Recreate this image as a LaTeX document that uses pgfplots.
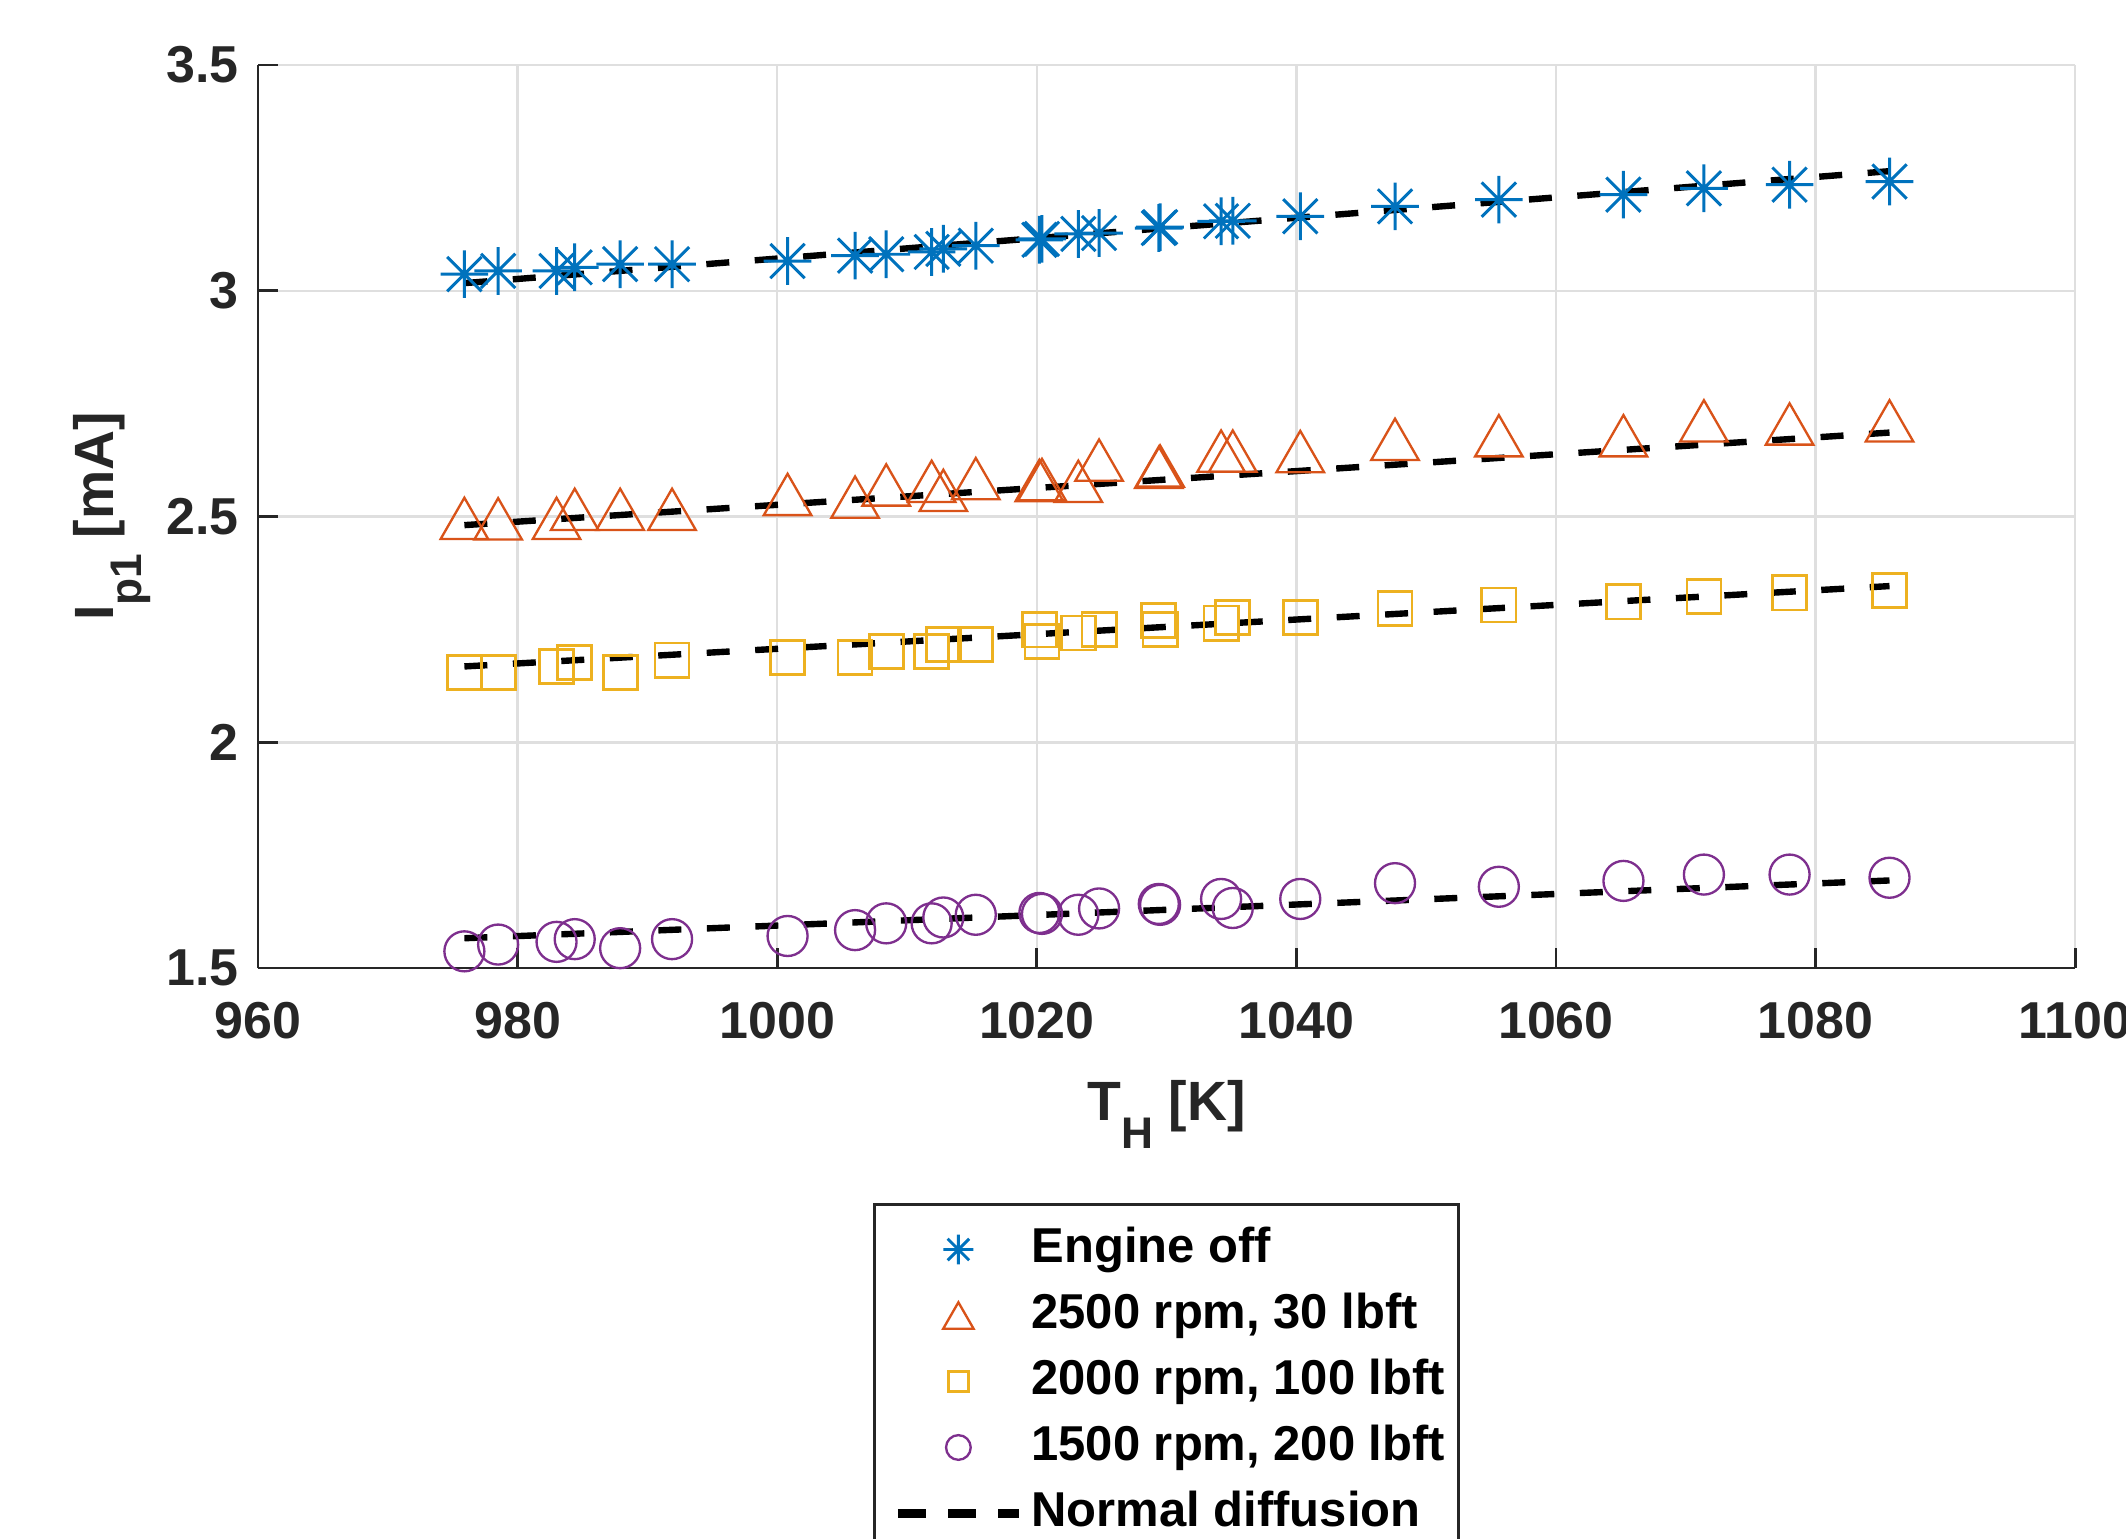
\documentclass[border=0pt]{standalone}
\usepackage{fontspec}
\setmainfont{Liberation Sans}
\usepackage{pgfplots}
\usepackage{pgfplotstable}
\pgfplotsset{compat=1.18}
\usetikzlibrary{calc}

\definecolor{mblue}{RGB}{0,114,189}
\definecolor{mred}{RGB}{217,83,25}
\definecolor{myellow}{RGB}{237,177,32}
\definecolor{mpurple}{RGB}{126,47,142}
\definecolor{axgray}{RGB}{38,38,38}
\definecolor{gridgray}{RGB}{223,223,223}

% MATLAB-like markers
\pgfdeclareplotmark{mstar}{%
  \pgfpathmoveto{\pgfqpoint{0pt}{\pgfplotmarksize}}\pgfpathlineto{\pgfqpoint{0pt}{-\pgfplotmarksize}}%
  \pgfpathmoveto{\pgfqpoint{\pgfplotmarksize}{0pt}}\pgfpathlineto{\pgfqpoint{-\pgfplotmarksize}{0pt}}%
  \pgfpathmoveto{\pgfqpoint{0.72\pgfplotmarksize}{0.72\pgfplotmarksize}}\pgfpathlineto{\pgfqpoint{-0.72\pgfplotmarksize}{-0.72\pgfplotmarksize}}%
  \pgfpathmoveto{\pgfqpoint{-0.72\pgfplotmarksize}{0.72\pgfplotmarksize}}\pgfpathlineto{\pgfqpoint{0.72\pgfplotmarksize}{-0.72\pgfplotmarksize}}%
  \pgfusepathqstroke}
\pgfdeclareplotmark{mtri}{%
  \pgfpathmoveto{\pgfqpoint{0pt}{\pgfplotmarksize}}%
  \pgfpathlineto{\pgfqpoint{-1.15\pgfplotmarksize}{-\pgfplotmarksize}}%
  \pgfpathlineto{\pgfqpoint{1.15\pgfplotmarksize}{-\pgfplotmarksize}}%
  \pgfpathclose\pgfusepathqstroke}

\pgfplotsset{
  mleg/.style={legend image code/.code={%
    \path (-0.09cm,0cm);
    \draw[mark repeat=2,mark phase=2,##1,mark size=#1] plot coordinates {(0cm,0cm) (0.5cm,0cm) (1cm,0cm)};}},
  lleg/.style={legend image code/.code={%
    \path (-0.09cm,0cm);
    \draw[##1, dash pattern=on 6.6pt off 5.2pt, line width=1.9pt] (0cm,0cm) -- (1cm,0cm);}},
}

% T_H [K], Ip1 [mA] for the four operating points
\pgfplotstableread{
T      eoff   r2500  r2000  r1500
975.9  3.037  2.496  2.154  1.537
978.5  3.044  2.495  2.154  1.552
983.0  3.044  2.496  2.168  1.558
984.4  3.052  2.516  2.176  1.564
987.9  3.059  2.516  2.154  1.544
991.9  3.059  2.516  2.182  1.564
1000.8 3.066  2.549  2.188  1.571
1006.0 3.078  2.543  2.188  1.584
1008.4 3.081  2.570  2.201  1.599
1011.9 3.086  2.578  2.201  1.599
1012.8 3.093  2.558  2.216  1.612
1015.3 3.100  2.584  2.216  1.618
1020.2 3.113  2.580  2.249  1.622
1020.4 3.115  2.582  2.224  1.620
1023.2 3.126  2.578  2.242  1.618
1024.8 3.128  2.625  2.250  1.632
1029.4 3.139  2.609  2.270  1.642
1029.5 3.141  2.612  2.250  1.640
1034.2 3.154  2.645  2.264  1.653
1035.1 3.155  2.645  2.277  1.633
1040.3 3.165  2.644  2.276  1.653
1047.6 3.187  2.671  2.296  1.688
1055.6 3.202  2.679  2.304  1.680
1065.2 3.213  2.679  2.311  1.693
1071.4 3.227  2.712  2.323  1.707
1078.0 3.235  2.705  2.331  1.707
1085.7 3.242  2.712  2.336  1.700
}\meas

\begin{document}
\begin{tikzpicture}
\begin{axis}[
  name=ax,
  scale only axis,
  width=15cm, height=7.454cm,
  xmin=960, xmax=1100, ymin=1.5, ymax=3.5,
  xtick={960,980,1000,1020,1040,1060,1080,1100},
  ytick={1.5,2,2.5,3,3.5},
  axis x line*=bottom, axis y line*=left,
  axis line style={axgray, line width=0.65pt},
  tick align=inside, major tick length=4.6pt,
  tick style={axgray, line width=0.65pt},
  grid=major, major grid style={gridgray, line width=0.6pt},
  /pgf/number format/1000 sep={},
  /pgf/number format/assume math mode=true,
  ticklabel style={font=\fontsize{12.2}{14}\selectfont\bfseries, text=axgray},
  yticklabel style={xshift=-1pt},
  xticklabel style={yshift=-4.5pt},
  xlabel={T\raisebox{-6.6pt}{\fontsize{10.4}{12}\selectfont H} [K]},
  ylabel={I\raisebox{-6.6pt}{\fontsize{10.4}{12}\selectfont p1} [mA]},
  xlabel style={at={(axis description cs:0.5,-0.1684)}, anchor=base,
    font=\fontsize{13}{15}\selectfont\bfseries, text=axgray},
  ylabel style={at={(axis description cs:-0.0798,0.5)}, anchor=base,
    font=\fontsize{13}{15}\selectfont\bfseries, text=axgray},
  legend cell align=left,
  legend style={at={(axis description cs:0.5,-0.2603)}, anchor=north,
    draw=axgray, line width=0.6pt, fill=white,
    font=\fontsize{11.5}{14}\selectfont\bfseries,
    inner xsep=0.075cm, inner ysep=4pt, row sep=2.3pt, column sep=1pt,
    nodes={inner sep=1pt, text height=8.6pt, text depth=2.6pt}},
]
\addplot[only marks, mark=mstar, mark size=5.6pt, mblue, line width=0.7pt, mleg=3.5pt]
  table[x=T, y=eoff] {\meas};
\addlegendentry{Engine off}
\addplot[only marks, mark=mtri, mark size=4.85pt, mred, line width=0.55pt, mleg=3.1pt]
  table[x=T, y=r2500] {\meas};
\addlegendentry{2500 rpm, 30 lbft}
\addplot[only marks, mark=square, mark size=4.0pt, myellow, line width=0.65pt, mleg=2.4pt]
  table[x=T, y=r2000] {\meas};
\addlegendentry{2000 rpm, 100 lbft}
\addplot[only marks, mark=o, mark size=4.7pt, mpurple, line width=0.55pt, mleg=2.9pt]
  table[x=T, y=r1500] {\meas};
\addlegendentry{1500 rpm, 200 lbft}

% normal diffusion fits
\addplot[black, line width=1.5pt, dash pattern=on 5.4pt off 6pt, lleg]
  coordinates {(975.9,3.017) (1085.7,3.265)};
\addlegendentry{Normal diffusion}
\addplot[black, line width=1.5pt, dash pattern=on 5.4pt off 6pt, forget plot]
  coordinates {(975.9,2.481) (1085.7,2.686)};
\addplot[black, line width=1.5pt, dash pattern=on 5.4pt off 6pt, forget plot]
  coordinates {(975.9,2.168) (1085.7,2.346)};
\addplot[black, line width=1.5pt, dash pattern=on 5.4pt off 6pt, forget plot]
  coordinates {(975.9,1.566) (1085.7,1.694)};
\end{axis}
\pgfresetboundingbox
\useasboundingbox ($(ax.south west)+(-2.130cm,-4.705cm)$) rectangle ($(ax.south west)+(15.420cm,7.991cm)$);
\end{tikzpicture}
\end{document}
